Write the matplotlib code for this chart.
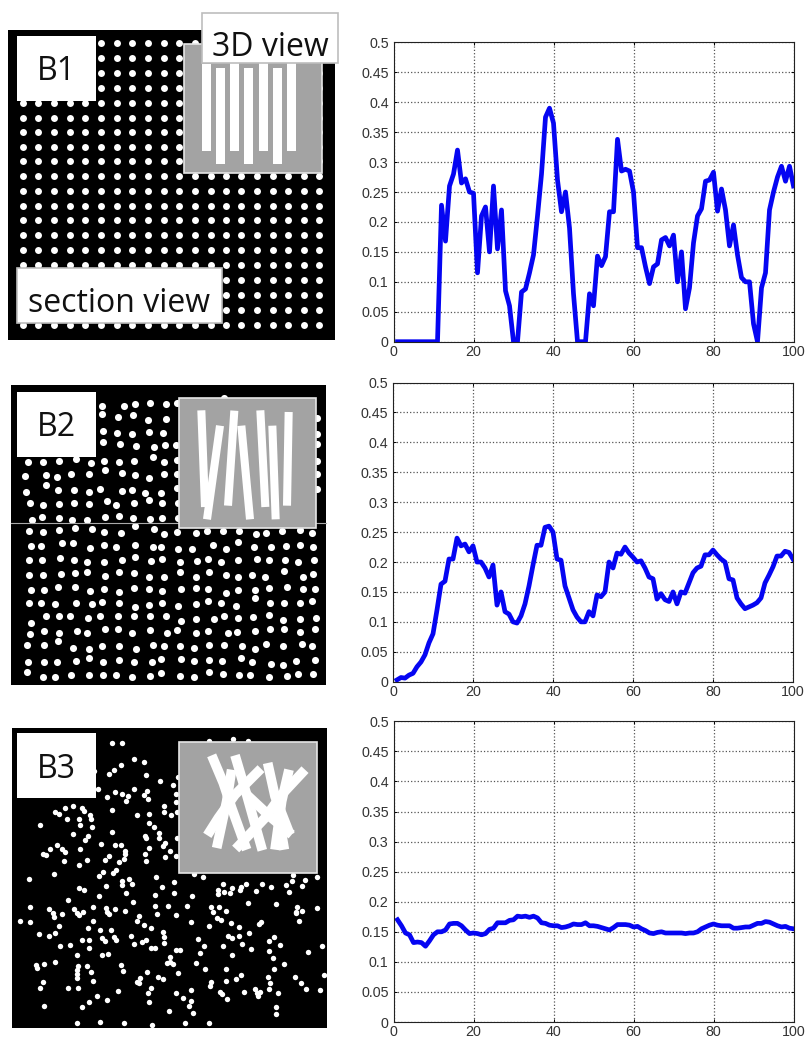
import matplotlib
matplotlib.use("Agg")
import matplotlib.pyplot as plt
from matplotlib.patches import Rectangle
import numpy as np

# curves, one value per x = 1..100
curve_b1 = [0,0,0,0,0,0,0,0,0,0,0,.228,.168,.26,.28,.32,.265,.272,.25,.248,
            .115,.21,.225,.15,.26,.155,.22,.085,.06,0,0,.083,.088,.115,.145,.21,.28,.375,.39,.365,
            .27,.217,.25,.19,.08,0,0,0,.08,.06,.143,.127,.142,.217,.217,.338,.285,.288,.285,.25,
            .157,.157,.125,.097,.125,.13,.17,.174,.16,.178,.1,.15,.055,.09,.165,.21,.222,.268,.27,.283,
            .218,.255,.22,.16,.195,.145,.107,.1,.1,.03,0,.09,.115,.22,.25,.275,.293,.268,.293,.26]
curve_b2 = [.003,.007,.006,.011,.014,.025,.033,.045,.065,.08,.12,.163,.168,.205,.205,.24,.227,.23,.217,.227,
            .2,.2,.19,.175,.195,.128,.15,.117,.113,.1,.098,.11,.13,.16,.195,.228,.228,.258,.26,.25,
            .205,.203,.16,.14,.12,.108,.1,.1,.117,.11,.145,.142,.15,.2,.19,.215,.213,.225,.215,.208,
            .2,.202,.19,.175,.172,.138,.147,.137,.134,.15,.13,.15,.148,.165,.182,.19,.193,.212,.212,.22,
            .212,.205,.2,.172,.17,.14,.13,.122,.125,.128,.132,.14,.165,.178,.192,.21,.21,.218,.216,.205]
curve_b3 = [.17,.16,.148,.145,.132,.133,.132,.126,.135,.145,.15,.15,.153,.163,.164,.164,.16,.153,.147,.148,
            .147,.145,.147,.154,.156,.165,.165,.165,.169,.17,.176,.175,.176,.174,.176,.173,.165,.164,.161,.16,
            .16,.157,.158,.16,.163,.162,.162,.165,.16,.16,.159,.157,.155,.153,.157,.162,.162,.162,.161,.158,
            .159,.155,.152,.148,.147,.149,.15,.148,.148,.148,.148,.148,.147,.148,.148,.15,.155,.158,.161,.163,
            .161,.16,.16,.16,.156,.156,.157,.158,.158,.161,.164,.164,.167,.166,.163,.16,.158,.159,.156,.155]
x_vals = np.arange(1, 101)
x_ticks = [0, 20, 40, 60, 80, 100]
y_ticks = [0, .05, .1, .15, .2, .25, .3, .35, .4, .45, .5]
y_labels = ['0', '0.05', '0.1', '0.15', '0.2', '0.25', '0.3', '0.35', '0.4', '0.45', '0.5']

# dots of the section views, in image pixels
b1_cols = [22.7, 38.3, 54, 69.7, 85.3, 101, 116.7, 132.3, 148, 163.7, 179.3, 195, 210.7, 226, 241.3, 257, 272.7, 288.3, 304, 319.3]
b1_rows = [42.7, 57.7, 72.7, 87.7, 102.7, 117.7, 132.3, 146.7, 161.3, 176.3, 191, 206, 220.3, 235.3, 250.3, 265.3, 280.3, 295.3, 310, 325]

b2_dots = [(305,92),(372,92),(405,88),(451,84),(498,86),(530,85),(673,68),
 (305,118),(353,127),(399,119),(443,135),(498,131),(950,128),
 (309,168),(351,175),(397,176),(446,170),(488,175),(950,176),
 (309,202),(360,206),(407,213),(462,217),(496,211),(527,210),(950,207),
 (85,260),(129,262),(178,258),(228,252),(273,265),(311,258),(358,262),(403,258),(460,247),(493,262),(530,255),(950,258),
 (75,303),(137,301),(171,306),(214,298),(267,297),(316,284),(367,295),(405,299),(446,308),(493,297),(530,298),(950,298),
 (77,352),(137,331),(174,344),(221,344),(268,351),(300,342),(367,347),(397,344),(434,355),(484,353),(530,338),(950,343),
 (90,383),(129,390),(176,387),(221,383),(266,387),(320,379),(349,390),(403,385),(446,376),(487,385),(533,385),
 (95,435),(126,427),(178,428),(217,436),(262,436),(314,427),(356,424),(399,428),(449,431),(487,428),(535,430),
 (88,469),(129,472),(178,466),(225,458),(275,463),(313,472),(363,474),(405,453),(462,463),(493,476),(532,472),(587,474),(622,469),(670,469),(716,469),(768,478),(799,473),(845,468),(901,464),(935,473),
 (93,513),(122,513),(185,503),(218,505),(271,519),(311,510),(347,515),(405,511),(458,515),(482,517),(534,521),(576,521),(638,509),(677,521),(713,500),(762,517),(813,515),(858,513),(899,509),(939,517),
 (86,555),(126,555),(181,549),(222,555),(260,562),(311,560),(366,555),(405,547),(453,558),(487,551),(539,560),(591,558),(624,553),(662,560),(713,555),(771,553),(808,555),(856,555),(893,560),(942,555),
 (86,599),(129,599),(182,597),(226,595),(260,592),(314,602),(358,592),(403,595),(448,607),(493,605),(541,591),(587,607),(628,592),(677,599),(713,605),(755,601),(796,605),(851,587),(908,605),(939,597),
 (93,646),(131,646),(174,636),(226,637),(271,649),(311,642),(358,651),(403,640),(448,642),(487,649),(543,642),(587,640),(624,642),(677,653),(713,644),(766,646),(808,640),(861,637),(908,642),(946,642),
 (88,685),(124,683),(165,687),(228,683),(275,687),(307,681),(358,685),(405,695),(446,689),(487,683),(535,692),(587,687),(624,677),(662,685),(708,692),(764,670),(811,685),(851,685),(899,685),(937,677),
 (93,743),(137,724),(176,724),(211,724),(264,728),(300,723),(353,724),(403,723),(449,723),(498,723),(543,737),(587,732),(641,732),(671,723),(713,730),(759,726),(806,721),(849,734),(899,732),(948,728),
 (90,778),(133,767),(178,775),(232,768),(260,775),(314,761),(353,761),(397,773),(451,766),(501,773),(532,766),(587,773),(624,769),(683,773),(712,771),(766,769),(811,761),(851,761),(899,771),(944,762),
 (82,810),(131,810),(174,799),(218,819),(266,821),(305,814),(358,814),(407,823),(458,810),(493,813),(539,814),(581,818),(627,810),(673,810),(726,813),(764,821),(797,808),(849,814),(906,806),(937,813),
 (84,862),(133,862),(172,862),(228,857),(266,848),(309,860),(356,855),(403,862),(456,860),(484,853),(543,853),(581,857),(628,855),(665,857),(722,848),(757,860),(813,868),(849,870),(887,857),(946,855),
 (82,891),(129,905),(165,905),(214,900),(268,900),(309,900),(347,900),(397,905),(451,903),(484,894),(539,903),(581,907),(627,891),(669,896),(716,900),(750,900),(806,905),(861,903),(893,898),(939,898)]

b3_dots = [(335,68),(365,68),(628,62),(698,58),(745,62),
 (401,116),(433,127),(363,136),(343,149),(327,162),(281,152),(437,165),(481,184),(519,195),(533,170),
 (293,207),(345,215),(320,231),(403,208),(367,222),(383,228),(377,243),(441,214),(433,226),(444,238),(527,222),(527,245),
 (164,276),(176,282),(194,265),(220,257),(245,264),(252,274),(200,297),(270,284),(272,298),(236,297),(241,315),(275,321),(119,314),(337,269),(411,284),(447,281),(493,258),(491,276),(512,284),(530,275),
 (446,310),(462,321),(335,336),(218,343),(476,338),(435,349),(437,355),(478,354),(530,353),(264,349),(256,360),
 (171,374),(150,388),(128,401),(138,406),(186,388),(196,395),(241,386),(304,371),(346,376),(363,376),(376,392),(376,402),(447,385),(436,401),(494,369),(490,379),(509,394),(495,411),(529,408),
 (191,424),(238,434),(260,420),(327,409),(314,421),(373,418),(357,426),(438,423),
 (161,462),(347,451),(338,458),(309,456),(296,468),(87,476),(467,470),(583,463),(608,472),(880,465),(952,470),
 (366,484),(388,476),(366,496),(395,492),(522,485),(318,499),(486,502),(238,504),(252,509),(378,518),(465,525),(522,520),(577,528),
 (669,491),(738,491),(786,491),(812,500),(654,510),(654,521),(672,517),(690,520),(697,505),(720,510),(722,500),(767,512),(858,495),(876,482),(916,481),(905,497),(867,515),
 (297,528),(203,541),(398,547),(745,549),(828,552),(503,557),(465,559),(561,559),(90,560),(278,561),(148,568),(222,568),(318,565),(344,568),(890,560),(950,565),(632,562),(656,560),(677,573),
 (160,580),(162,592),(186,583),(232,580),(250,577),(238,585),(320,575),(326,583),(376,573),(472,583),(528,584),(640,577),(888,577),(907,572),(888,580),
 (59,604),(90,606),(418,587),(412,602),(431,614),(279,604),(572,605),(650,593),(664,600),(693,609),(782,605),(776,612),(897,604),
 (178,618),(263,625),(299,629),(333,631),(452,623),(627,618),(716,622),
 (117,641),(148,649),(165,638),(393,647),(488,637),(491,651),(748,640),(718,647),(685,649),(697,654),
 (245,659),(268,661),(307,654),(315,662),(343,650),(347,660),(438,660),(425,667),(401,673),(493,668),(594,657),(823,652),(808,662),
 (180,678),(210,676),(268,685),(452,683),(465,683),(613,679),(670,677),(725,673),(840,674),(966,677),
 (528,690),(541,690),(599,699),(753,686),(806,693),(924,697),(232,706),(305,705),(323,701),(695,704),
 (510,712),(500,730),(518,731),(510,725),(588,728),(820,715),(133,731),(164,725),(109,735),(110,745),(262,737),(233,738),(231,750),(363,735),(853,733),
 (231,762),(232,773),(368,754),(273,757),(441,755),(534,760),(616,746),(679,748),(822,746),
 (279,783),(130,786),(119,803),(203,805),(233,805),(420,775),(412,785),(416,790),(474,771),(490,778),(632,786),(630,798),(677,783),(708,778),(724,765),(805,771),(885,772),(903,789),(971,766),(811,790),
 (354,813),(454,803),(444,820),(528,820),(572,810),(659,816),(667,823),(731,815),(765,808),(770,820),(780,815),(775,828),(808,806),(833,820),(919,808),(961,811),
 (291,827),(322,840),(267,845),(448,845),(550,835),(574,843),(682,838),
 (133,859),(246,862),(567,858),(829,860),(506,872),(578,879),(827,883),
 (232,910),(299,907),(373,908),(456,915),(555,910),(627,910)]

# fibres in the insets
b1_fibres = [(206.5,64,151),(220.5,68,164),(234.5,63,151),(248.5,68,164),(263.5,63,151),(277.5,68,164),(291.5,63,151)]
b2_fibres = [[(604,106),(615,396)],[(660,152),(621,433)],[(703,107),(684,392)],[(724,152),(750,433)],
             [(781,106),(796,396)],[(817,152),(827,433)],[(866,111),(861,392)]]
b3_fibres = [[(110,52),(145,135),(170,210),(215,335)],[(180,52),(215,170),(262,337)],
             [(258,92),(180,170),(130,240),(97,292)],[(170,95),(155,190),(125,330)],
             [(278,75),(300,175),(345,290)],[(342,95),(320,190),(300,335)],
             [(390,95),(320,170),(270,240),(182,333)],[(215,170),(290,240),(350,290)],
             [(305,200),(328,335)]]

W, H = 810, 1038
fig = plt.figure(figsize=(W/100, H/100), dpi=100)
plt.rcParams['font.family'] = ['Liberation Sans', 'DejaVu Sans']

bg = fig.add_axes([0, 0, 1, 1])
bg.set_xlim(0, W)
bg.set_ylim(H, 0)
bg.axis('off')


def box(x0, y0, x1, y1, face, edge='none', lw=0, z=1):
    bg.add_patch(Rectangle((x0, y0), x1-x0, y1-y0, fc=face, ec=edge, lw=lw, zorder=z))


def label(x, y, txt):
    bg.text(x, y, txt, fontsize=23, family='Open Sans', color='#111111', ha='center', va='center', zorder=6)


# section view B1
box(8, 30, 335, 340, 'black')
gx, gy = np.meshgrid(b1_cols, b1_rows)
bg.scatter(gx.ravel(), gy.ravel(), s=25, c='white', lw=0, zorder=2)
box(183.5, 43.5, 321.5, 173, '#a3a3a3', '#e6e6e6', 1.2, z=3)
for xc, top, bottom in b1_fibres:
    box(xc-4.5, top, xc+4.5, bottom, 'white', z=4)
box(17, 36, 96, 101, 'white', z=5)
label(56.5, 71, 'B1')
box(202, 12.5, 338, 63, 'white', '#bdbdbd', 1.2, z=5)
label(270, 48, '3D view')
box(17, 268, 222, 322.5, 'white', '#bdbdbd', 1.2, z=5)
label(119, 303, 'section view')

# section view B2
box(10.5, 385, 326, 685, 'black')
bg.plot([10.5, 326], [523, 523], color='#aaaaaa', lw=0.8, zorder=2.5)
bg.scatter([p[0]/3 for p in b2_dots], [375+p[1]/3 for p in b2_dots], s=26, c='white', lw=0, zorder=2)
box(179, 398, 316, 528, '#a3a3a3', '#e6e6e6', 1.2, z=3)
for f in b2_fibres:
    bg.plot([p[0]/3 for p in f], [375+p[1]/3 for p in f], color='white', lw=5.8, solid_capstyle='butt', zorder=4)
box(17, 392, 96, 457, 'white', z=5)
label(56.5, 428, 'B2')

# section view B3
box(11.7, 728, 326.7, 1028, 'black')
bg.scatter([p[0]/3 for p in b3_dots], [720+p[1]/3 for p in b3_dots], s=15, c='white', lw=0, zorder=2)
box(178.5, 741.5, 316.5, 872.5, '#a3a3a3', '#e6e6e6', 1.2, z=3)
for f in b3_fibres:
    bg.plot([175+p[0]/3 for p in f], [738+p[1]/3 for p in f], color='white', lw=7, solid_capstyle='butt', zorder=4)
box(17, 733, 96, 798, 'white', z=5)
label(56.5, 769, 'B3')


# right hand curves
def curve_axes(x0, y0, x1, y1, values):
    ax = fig.add_axes([x0/W, 1-y1/H, (x1-x0)/W, (y1-y0)/H])
    ax.plot(x_vals, values, color='#0505f2', lw=3.4, solid_joinstyle='round')
    ax.set_xlim(0, 100)
    ax.set_ylim(0, .5)
    ax.set_xticks(x_ticks)
    ax.set_yticks(y_ticks)
    ax.set_yticklabels(y_labels)
    ax.grid(True, color='#555555', ls=':', lw=0.9)
    ax.tick_params(direction='in', length=2.5, width=0.7, labelsize=10.3, labelcolor='#333333', top=True, right=True)
    ax.tick_params(axis='y', pad=3.5)
    ax.tick_params(axis='x', pad=2.5)
    for s in ax.spines.values():
        s.set_linewidth(0.8)
        s.set_color('#222222')
    return ax


curve_axes(393.5, 42.3, 793.5, 341.7, curve_b1)
curve_axes(393, 382.5, 793, 681.7, curve_b2)
curve_axes(393.5, 721.3, 793.5, 1022, curve_b3)

fig.savefig("out.png", dpi=100)
